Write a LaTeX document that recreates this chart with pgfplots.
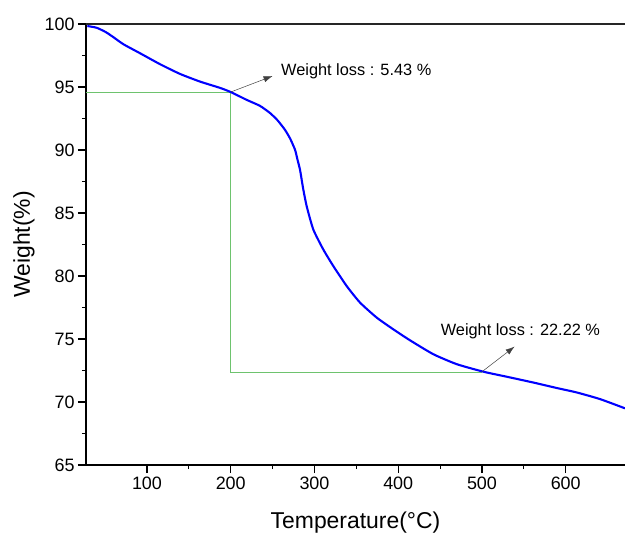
\documentclass[border=0pt]{standalone}
\usepackage{fontspec}
\setmainfont{Liberation Sans}
\usepackage{pgfplots}
\pgfplotsset{compat=1.18}
\usetikzlibrary{arrows.meta}
\definecolor{tgblue}{RGB}{0,0,255}
\definecolor{guide}{RGB}{110,195,110}
\begin{document}
\begin{tikzpicture}
\begin{axis}[
  scale only axis,
  width=539bp, height=441bp,
  xmin=27.2, xmax=670.8,
  ymin=65, ymax=100,
  axis x line*=bottom, axis y line*=left,
  axis line style={line width=1.2pt, -},
  xtick={100,200,...,600},
  ytick={65,70,...,100},
  minor x tick num=1, minor y tick num=1,
  tick align=outside,
  major tick length=8bp, minor tick length=4bp,
  every tick/.style={black, line width=1.1pt},
  /pgf/number format/assume math mode=true,
  tick label style={font=\fontsize{18}{20}\selectfont},
  xlabel={Temperature(°C)},
  ylabel={Weight(\%)},
  every axis x label/.style={at={(axis description cs:0.5,0)}, anchor=center, yshift=-58bp, font=\fontsize{23}{26}\selectfont},
  every axis y label/.style={at={(axis description cs:0,0.5)}, anchor=center, rotate=90, yshift=62bp, font=\fontsize{23}{26}\selectfont},
  clip=false,
]
\draw[line width=1.2pt, black!85] (rel axis cs:0,1) -- (rel axis cs:1,1);
\addplot[guide, line width=0.9pt] coordinates {(27.2,94.57) (200,94.57) (200,72.36) (500,72.36)};
\addplot[tgblue, line width=2.1pt, smooth, tension=0.35] coordinates {
(28.8,99.84) (40,99.7) (51,99.35) (60,98.95) (71.7,98.4) (91.7,97.68)
(115.6,96.81) (139.4,96.04) (163.3,95.43) (187.2,94.93) (200,94.6)
(219,93.98) (235,93.5) (247,92.93) (256,92.35) (264.8,91.6) (271,90.9)
(276.8,90.02) (279.5,89.3) (282.7,88.44) (286.7,86.86) (290.7,85.54)
(298.6,83.69) (310.5,82.11) (322.5,80.79) (338.5,79.2) (354.4,77.89)
(374.3,76.7) (394.1,75.77) (414,74.9) (442,73.79) (470,73.0) (502,72.4)
(530,72.0) (561,71.55) (590,71.1) (613,70.76) (641,70.23) (670.7,69.5)};
\draw[-{Latex[length=9bp,width=6bp]}, line width=0.5pt, black!75] (axis cs:200,94.6) -- (axis cs:250,95.87);
\draw[-{Latex[length=9bp,width=6bp]}, line width=0.5pt, black!75] (axis cs:500,72.4) -- (axis cs:539,74.4);
\node[anchor=west, inner sep=0pt, font=\fontsize{16.4}{18}\selectfont] at (axis cs:260,96.27) {Weight loss : 5.43 \%};
\node[anchor=west, inner sep=0pt, font=\fontsize{16.4}{18}\selectfont] at (axis cs:450.6,75.58) {Weight loss : 22.22 \%};
\end{axis}
\pgfresetboundingbox
\path[use as bounding box] (-86bp,-70bp) rectangle (539bp,465bp);
\end{tikzpicture}
\end{document}
